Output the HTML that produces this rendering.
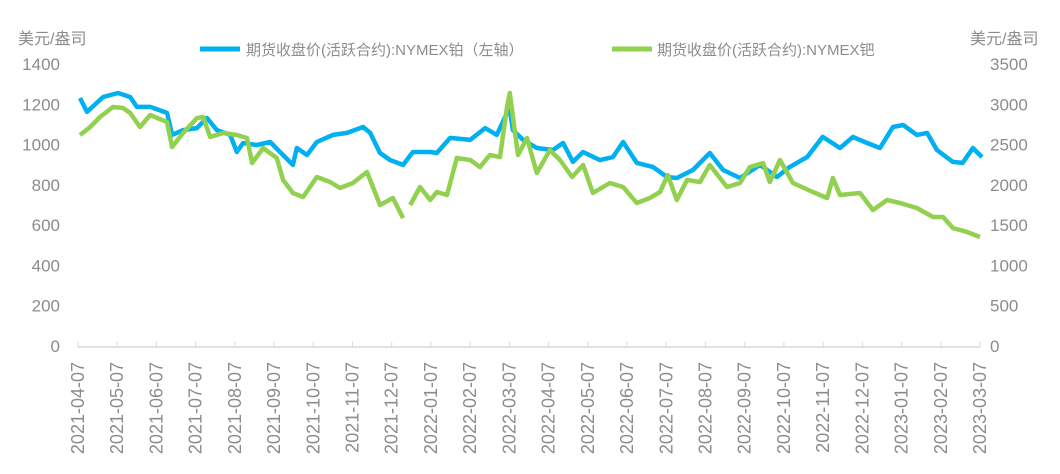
<!DOCTYPE html>
<html><head><meta charset="utf-8"><style>
body{margin:0;background:#fff;}
svg text{font-family:"Liberation Sans","Noto Sans CJK SC",sans-serif;fill:#8c8c8c;}
</style></head><body>
<svg width="1060" height="469">
<g id="axes"></g><g id="series"></g>
<text x="18" y="44" font-size="16">美元/盎司</text>
<text x="970" y="44" font-size="16">美元/盎司</text>
<g>
<line x1="200" y1="49" x2="240" y2="49" stroke="#00b0f0" stroke-width="5"/>
<text x="246" y="55" font-size="15">期货收盘价(活跃合约):NYMEX铂（左轴）</text>
<line x1="612" y1="49" x2="652" y2="49" stroke="#92d050" stroke-width="5"/>
<text x="657" y="55" font-size="15">期货收盘价(活跃合约):NYMEX钯</text>
</g>
</svg>
<script>
const tickLabels=["2021-04-07","2021-05-07","2021-06-07","2021-07-07","2021-08-07","2021-09-07","2021-10-07","2021-11-07","2021-12-07","2022-01-07","2022-02-07","2022-03-07","2022-04-07","2022-05-07","2022-06-07","2022-07-07","2022-08-07","2022-09-07","2022-10-07","2022-11-07","2022-12-07","2023-01-07","2023-02-07","2023-03-07"];
const leftTicks=[0,200,400,600,800,1000,1200,1400];
const rightTicks=[0,500,1000,1500,2000,2500,3000,3500];
const ptMonths=[0.05,0.23,0.64,1.02,1.33,1.5,1.84,2.27,2.4,2.68,3.03,3.29,3.54,3.88,4.05,4.21,4.56,4.9,5.15,5.48,5.58,5.84,6.09,6.5,6.86,7.27,7.45,7.7,7.96,8.29,8.54,8.98,9.15,9.49,10,10.38,10.68,10.94,11.01,11.09,11.35,11.7,12.11,12.37,12.62,12.88,13.31,13.64,13.9,14.25,14.66,15.02,15.27,15.68,16.11,16.45,16.88,17.39,17.82,18.15,18.59,18.99,19.43,19.76,20.12,20.45,20.78,21.04,21.39,21.65,21.9,22.31,22.56,22.82,23.05];
const ptValues=[1231,1162,1236,1256,1236,1187,1187,1157,1048,1072,1082,1132,1072,1048,963,1008,998,1013,963,899,983,948,1013,1048,1058,1087,1058,958,923,899,963,963,958,1033,1023,1082,1048,1157,1172,1072,1023,983,973,1008,914,963,923,938,1013,909,889,839,834,874,958,874,834,899,839,889,938,1038,983,1038,1008,983,1087,1097,1048,1058,973,914,909,983,938];
const pdMonths=[0.05,0.31,0.56,0.89,1.15,1.33,1.58,1.84,2.27,2.4,2.68,3.03,3.19,3.37,3.7,4.05,4.31,4.44,4.72,5.07,5.23,5.48,5.74,6.09,6.43,6.68,7.01,7.37,7.7,8.03,8.29,8.4,8.47,8.72,8.98,9.15,9.41,9.66,10,10.25,10.5,10.76,10.94,11.01,11.22,11.45,11.7,12.03,12.29,12.6,12.88,13.13,13.56,13.9,14.25,14.58,14.84,15.04,15.27,15.53,15.86,16.11,16.55,16.88,17.13,17.47,17.64,17.9,18.23,18.74,19.1,19.25,19.43,19.94,20.27,20.63,20.96,21.39,21.8,22.06,22.31,22.67,23];
const pdValues=[2619,2718,2842,2966,2954,2892,2718,2867,2780,2470,2643,2829,2842,2594,2643,2619,2581,2271,2457,2333,2060,1899,1849,2097,2035,1961,2023,2159,1750,1837,1588,null,1750,1973,1812,1911,1874,2333,2308,2221,2370,2345,2966,3140,2370,2581,2147,2432,2308,2097,2246,1899,2023,1973,1775,1837,1911,2122,1812,2060,2035,2246,1973,2023,2221,2271,2035,2308,2023,1911,1837,2085,1874,1899,1688,1812,1775,1713,1601,1601,1464,1415,1353];
const X0=78,X1=980,Y0=346,Y1=64;
const xs=m=>X0+m*(X1-X0)/23;
const yl=v=>Y0-v/1400*(Y0-Y1);
const yr=v=>Y0-v/3500*(Y0-Y1);
const NS="http://www.w3.org/2000/svg";
function mk(t,a,p){const e=document.createElementNS(NS,t);for(const k in a)e.setAttribute(k,a[k]);p.appendChild(e);return e;}
const ax=document.getElementById('axes'),se=document.getElementById('series');
const base=mk('line',{x1:X0,y1:Y0+1,x2:X1,y2:Y0+1,stroke:'#d9d9d9','stroke-width':1.5},ax);


tickLabels.forEach((l,i)=>{const x=xs(i);
 const tk=mk('line',{x1:x,y1:Y0-4,x2:x,y2:Y0+1,stroke:'#d9d9d9'},ax);
 
 
 const t=mk('text',{x:0,y:0,'font-size':18,'text-anchor':'end',transform:`translate(${x+6},${Y0+16}) rotate(-90)`},ax);
 t.textContent=l;
 
 });
leftTicks.forEach(v=>{const t=mk('text',{x:60,y:yl(v)+6,'font-size':17,'text-anchor':'end'},ax);t.textContent=v;
 
 });
rightTicks.forEach(v=>{const t=mk('text',{x:990,y:yr(v)+6,'font-size':17},ax);t.textContent=v;
 
 });
function path(ms,vs,f){let d='',pen=false;ms.forEach((m,i)=>{const v=vs[i];if(v==null){pen=false;return;}d+=(pen?'L':'M')+xs(m).toFixed(1)+','+f(v).toFixed(1);pen=true;});return d;}
const pt=mk('path',{d:path(ptMonths,ptValues,yl),fill:'none',stroke:'#00b0f0','stroke-width':4.5,'stroke-linejoin':'round'},se);


const pd=mk('path',{d:path(pdMonths,pdValues,yr),fill:'none',stroke:'#92d050','stroke-width':4.5,'stroke-linejoin':'round'},se);


</script>
</body></html>
